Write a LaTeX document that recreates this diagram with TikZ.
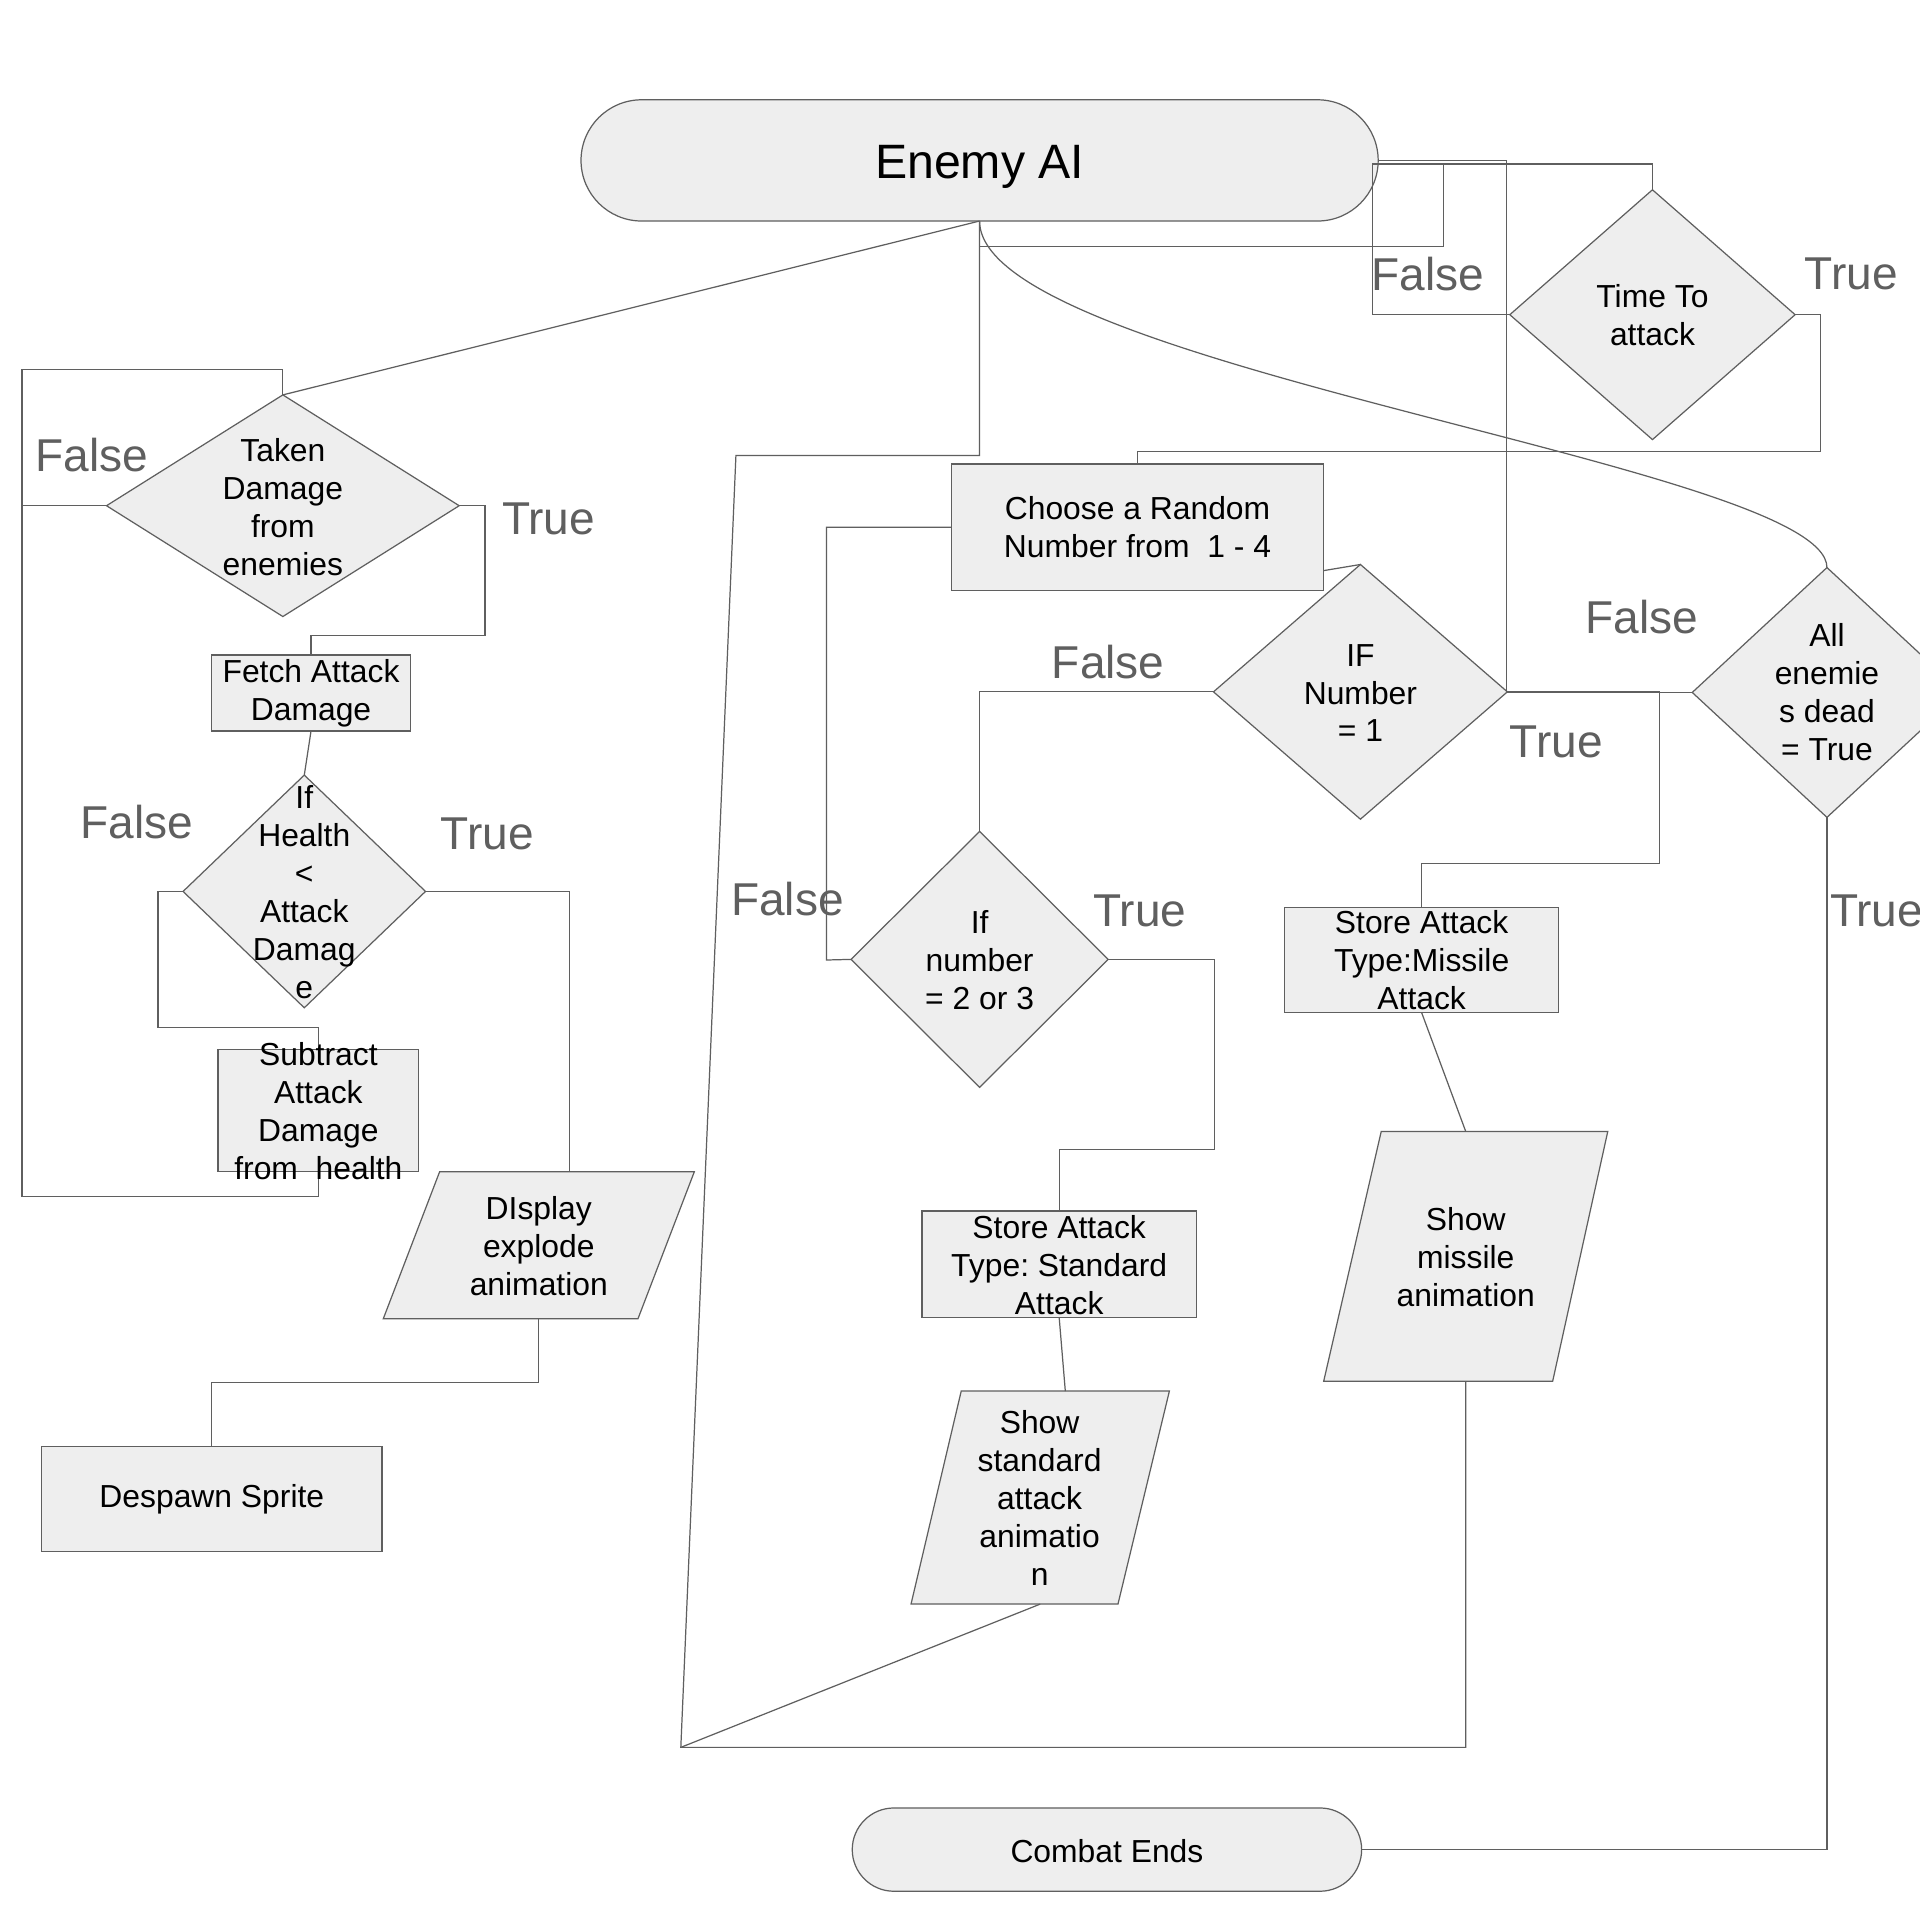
\documentclass[tikz,border=0pt]{standalone}
\usepackage{fontspec}
\setmainfont{Liberation Sans}
\usetikzlibrary{shapes.geometric,shapes.misc}
\definecolor{shfill}{HTML}{EEEEEE}
\definecolor{shline}{HTML}{5F5F5F}
\definecolor{lblc}{HTML}{5F5F5F}
\frenchspacing
\begin{document}
\begin{tikzpicture}[x=0.5pt,y=-0.5pt,
  every node/.style={outer sep=0pt},
  shp/.style={draw=shline, fill=shfill, line width=0.5pt},
  box/.style={shp, rectangle, inner sep=0pt},
  dia/.style={shp, diamond, inner sep=0pt},
  term/.style={shp, rounded rectangle, inner sep=0pt},
  ghost/.style={rectangle, inner sep=0pt},
  txt/.style={align=center, inner sep=0pt, font=\fontsize{13pt}{15.5pt}\selectfont, text=black},
  lbl/.style={inner sep=0pt, font=\fontsize{18.8pt}{22pt}\selectfont, text=lblc},
  conn/.style={draw=shline, line width=0.5pt},
]
\fill[white] (0,0) rectangle (1568,1568);
\useasboundingbox (0,0) rectangle (1568,1568);
\clip (0,0) rectangle (1568,1568);

% ---------- shapes ----------
\node[term, minimum width=325.5pt, minimum height=49.5pt] (ai) at (800,131) {};
\node[dia, minimum width=144pt, minimum height=90.5pt] (taken) at (231,413) {};
\node[box, minimum width=81pt, minimum height=31pt] (fetch) at (254,566) {};
\node[dia, minimum width=99pt, minimum height=95pt] (hlth) at (248.5,728) {};
\node[box, minimum width=82pt, minimum height=50pt] (subt) at (260,907) {};
\draw[shp] (359,957) -- (567,957) -- (521,1077) -- (313,1077) -- cycle;
\node[ghost, minimum width=104pt, minimum height=60pt] (disp) at (440,1017) {};
\node[box, minimum width=139pt, minimum height=43pt] (desp) at (173,1224) {};
\node[dia, minimum width=116.5pt, minimum height=102pt] (time) at (1349.5,257) {};
\node[box, minimum width=152pt, minimum height=51.5pt] (choose) at (929,430.5) {};
\node[dia, minimum width=120pt, minimum height=104pt] (num1) at (1111,565) {};
\node[dia, minimum width=110pt, minimum height=102pt] (alld) at (1492,565.5) {};
\node[dia, minimum width=105pt, minimum height=104.5pt] (n23) at (800,783.5) {};
\node[box, minimum width=112pt, minimum height=43.5pt] (std) at (865,1032.5) {};
\draw[shp] (785,1136) -- (955,1136) -- (913,1310) -- (744,1310) -- cycle;
\node[ghost, minimum width=105pt, minimum height=87pt] (showstd) at (849.5,1223) {};
\node[box, minimum width=112pt, minimum height=43pt] (miss) at (1161,784) {};
\draw[shp] (1128,924) -- (1313,924) -- (1268,1128) -- (1081,1128) -- cycle;
\node[ghost, minimum width=116pt, minimum height=102pt] (showm) at (1197,1026) {};
\node[term, minimum width=208pt, minimum height=34pt] (ce) at (904,1510.5) {};

% ---------- connectors ----------
\coordinate (jn) at (556,1427);
\draw[conn] (ai.south) -- (taken.north);
\draw[conn] (taken.west) -| (18,302) -| (taken.north);
\draw[conn] (subt.south) -- (260,977) -| (18,413);
\draw[conn] (taken.east) -| (396,519) -| (fetch.north);
\draw[conn] (fetch.south) -- (hlth.north);
\draw[conn] (hlth.west) -| (129,839) -| (subt.north);
\draw[conn] (hlth.east) -| ([xshift=12.5pt]disp.north);
\draw[conn] (disp.south) -- ++(0,52) -| (desp.north);
\draw[conn] (ai.south) -- ++(0,21) -| (1179,134) -| (time.north);
\draw[conn] (time.west) -| (1121,134) -- (1179,134);
\draw[conn] (time.east) -| (1487,369) -| (choose.north);
\draw[conn] (choose.west) -| (675,784) -- (n23.west);
\draw[conn] ([yshift=8pt]choose.south east) -- (num1.north);
\draw[conn] (num1.west) -| (n23.north);
\draw[conn] (n23.east) -| (992,939) -| (std.north);
\draw[conn] (std.south) -- ([xshift=10.25pt]showstd.north);
\draw[conn] (num1.east) -| (1355,705) -| (miss.north);
\draw[conn] (alld.west) -| (1230,131) -- (ai.east);
\draw[conn] (miss.south) -- (showm.north);
\draw[conn] (showm.south) |- (jn) -- (601,372) -| (ai.south);
\draw[conn] (showstd.south) -- (jn);
\draw[conn] (ai.south) .. controls (800,300) and (1492,380) .. (alld.north);
\draw[conn] (alld.south) |- (ce.east);

% ---------- texts ----------
\node[inner sep=0pt, font=\fontsize{19.7pt}{23pt}\selectfont] (ait) at (800,136) {Enemy AI};
\node[txt] (takent) at (231,414.5) {Taken\\Damage\\from\\enemies};
\node[txt] (fetcht) at (254,566) {Fetch Attack\\Damage};
\node[txt] (hltht) at (248.5,728.5) {If\\Health\\\textless\\Attack\\Damag\\e};
\node[txt] (subtt) at (260,907.5) {Subtract\\Attack\\Damage\\from\ \ health};
\node[txt] (dispt) at (440,1018) {DIsplay\\explode\\animation};
\node[txt] (despt) at (173,1224) {Despawn Sprite};
\node[txt] (timet) at (1349.5,257.5) {Time To\\attack};
\node[txt] (chooset) at (929,430.5) {Choose a Random\\Number from\ \ 1 - 4};
\node[txt] (num1t) at (1111,566) {IF\\Number\\= 1};
\node[txt] (alldt) at (1492,565.5) {All\\enemie\\s dead\\= True};
\node[txt] (n23t) at (800,784) {If\\number\\= 2 or 3};
\node[txt] (stdt) at (865,1033) {Store Attack\\Type: Standard\\Attack};
\node[txt] (showstdt) at (849,1223.5) {Show\\standard\\attack\\animatio\\n};
\node[txt] (misst) at (1161,784) {Store Attack\\Type:Missile\\Attack};
\node[txt] (showmt) at (1197,1027) {Show\\missile\\animation};
\node[txt] (cet) at (904,1511.5) {Combat Ends};

% ---------- branch labels ----------
\node[lbl] (l1) at (1166,224) {False};
\node[lbl] (l2) at (1512,224) {True};
\node[lbl] (l3) at (75,372) {False};
\node[lbl] (l4) at (448,424) {True};
\node[lbl] (l5) at (112,671) {False};
\node[lbl] (l6) at (398,681) {True};
\node[lbl] (l7) at (905,541) {False};
\node[lbl] (l8) at (1271,606) {True};
\node[lbl] (l9) at (1341,504) {False};
\node[lbl] (l10) at (643,734) {False};
\node[lbl] (l11) at (931,744) {True};
\node[lbl, anchor=west] (l12) at (1494.5,744) {True};
\end{tikzpicture}
\end{document}
